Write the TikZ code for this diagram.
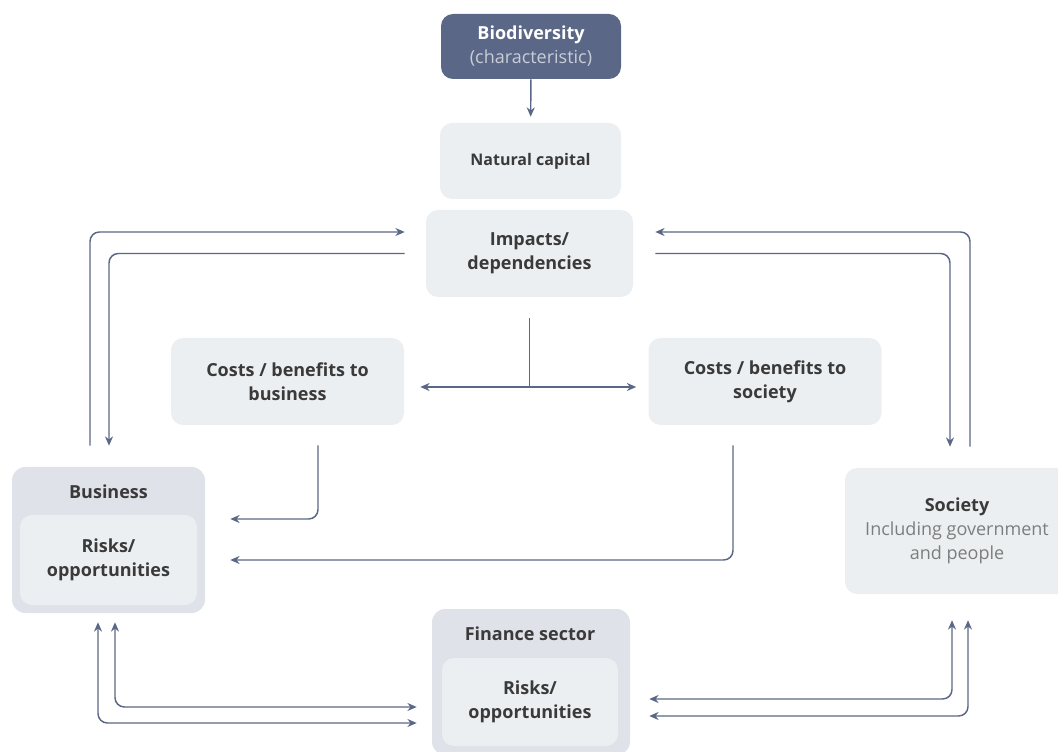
\documentclass[tikz,border=0pt]{standalone}
\usepackage{fontspec}
\setmainfont{Open Sans}
\usetikzlibrary{arrows.meta,calc}

\definecolor{slate}{RGB}{91,103,134}
\definecolor{boxgray}{RGB}{236,239,241}
\definecolor{outergray}{RGB}{223,226,232}
\definecolor{txtgray}{RGB}{58,58,58}
\definecolor{subgray}{RGB}{125,125,125}
\definecolor{bioline}{RGB}{200,205,216}

\tikzset{
  lightbox/.style={rounded corners=9pt, fill=boxgray, text=txtgray, align=center, inner sep=0pt,
    font=\bfseries\fontsize{13.5}{18}\selectfont},
  outerbox/.style={rounded corners=10pt, fill=outergray, inner sep=0pt},
  titletext/.style={text=txtgray, font=\bfseries\fontsize{13.5}{18}\selectfont},
  arr/.style={draw=slate, line width=1.1pt, rounded corners=7pt, -{Stealth[length=7pt,width=6pt]}},
  dblarr/.style={arr, {Stealth[length=7pt,width=6pt]}-{Stealth[length=7pt,width=6pt]}},
}

\begin{document}
\begin{tikzpicture}[x=0.75pt,y=-0.75pt]
    \useasboundingbox (0,0) rectangle (1058,752);

    % Colonna centrale
    \node[lightbox, fill=slate, text=white, minimum width=135pt, minimum height=48.75pt] (bio) at (531,46.5)
        {Biodiversity\\\textcolor{bioline}{\mdseries (characteristic)}};
    \node[lightbox, minimum width=135.75pt, minimum height=57pt, font=\bfseries\fontsize{12}{16}\selectfont] (nat) at (530.5,161) {Natural capital};
    \node[lightbox, minimum width=155.25pt, minimum height=65.25pt] (imp) at (529.5,253.5) {Impacts/\\dependencies};

    % Costi / benefici
    \node[lightbox, minimum width=174.75pt, minimum height=65.25pt] (cbb) at (287.5,381.5) {Costs / benefits to\\business};
    \node[lightbox, minimum width=174.75pt, minimum height=65.25pt] (cbs) at (765,381.5) {Costs / benefits to\\society};

    % Business
    \node[outerbox, minimum width=144.75pt, minimum height=109.5pt] (bus) at (108.5,540) {};
    \node[titletext] (bustitle) at (108.5,492) {Business};
    \node[lightbox, minimum width=132.75pt, minimum height=67.5pt] (busrisk) at (108.5,560) {Risks/\\opportunities};

    % Society
    \node[lightbox, minimum width=168pt, minimum height=94.5pt] (soc) at (957,531)
        {Society\\\textcolor{subgray}{\mdseries Including government}\\\textcolor{subgray}{\mdseries and people}};

    % Finance sector
    \node[outerbox, minimum width=148.5pt, minimum height=109.5pt] (fin) at (531,682) {};
    \node[titletext] (fintitle) at (530,634) {Finance sector};
    \node[lightbox, minimum width=132pt, minimum height=66pt] (finrisk) at (530,702) {Risks/\\opportunities};

    % Frecce centrali
    \draw[arr, shorten >=4.5pt] (bio) -- (nat);
    \coordinate (tj) at (529.5,387);
    \draw[draw=slate, line width=1.1pt] ($(imp.south)+(0,21)$) -- (tj);
    \draw[arr] (tj) -- ($(tj -| cbb.east)+(16,0)$);
    \draw[arr] (tj) -- ($(tj -| cbs.west)+(-12,0)$);

    % Anelli business / society
    \draw[arr] ($(bus.north)+(-18.5,-21)$) |- ($(imp.west)+(-21,-21.5)$);
    \draw[arr] ($(imp.west)+(-21,0)$) -| ($(bus.north)+(0.5,-21)$);
    \draw[arr] ($(soc.north)+(13,-21)$) |- ($(imp.east)+(22,-21.5)$);
    \draw[arr] ($(imp.east)+(22,0)$) -| ($(soc.north)+(-7,-21)$);

    % Costi verso business
    \draw[arr] ($(cbb.south)+(30.5,20)$) |- ($(bus.east)+(25,-21)$);
    \draw[arr] ($(cbs.south)+(-32,20)$) |- ($(bus.east)+(25,20)$);

    % Finanza
    \draw[dblarr] ($(bus.south)+(6.5,9)$) |- ($(fin.west)+(-15,25)$);
    \draw[dblarr] ($(bus.south)+(-10.5,9)$) |- ($(fin.west)+(-15,41)$);
    \draw[dblarr] ($(fin.east)+(19,17)$) -| ($(soc.south)+(-5,26)$);
    \draw[dblarr] ($(fin.east)+(19,34)$) -| ($(soc.south)+(11,26)$);
\end{tikzpicture}
\end{document}
